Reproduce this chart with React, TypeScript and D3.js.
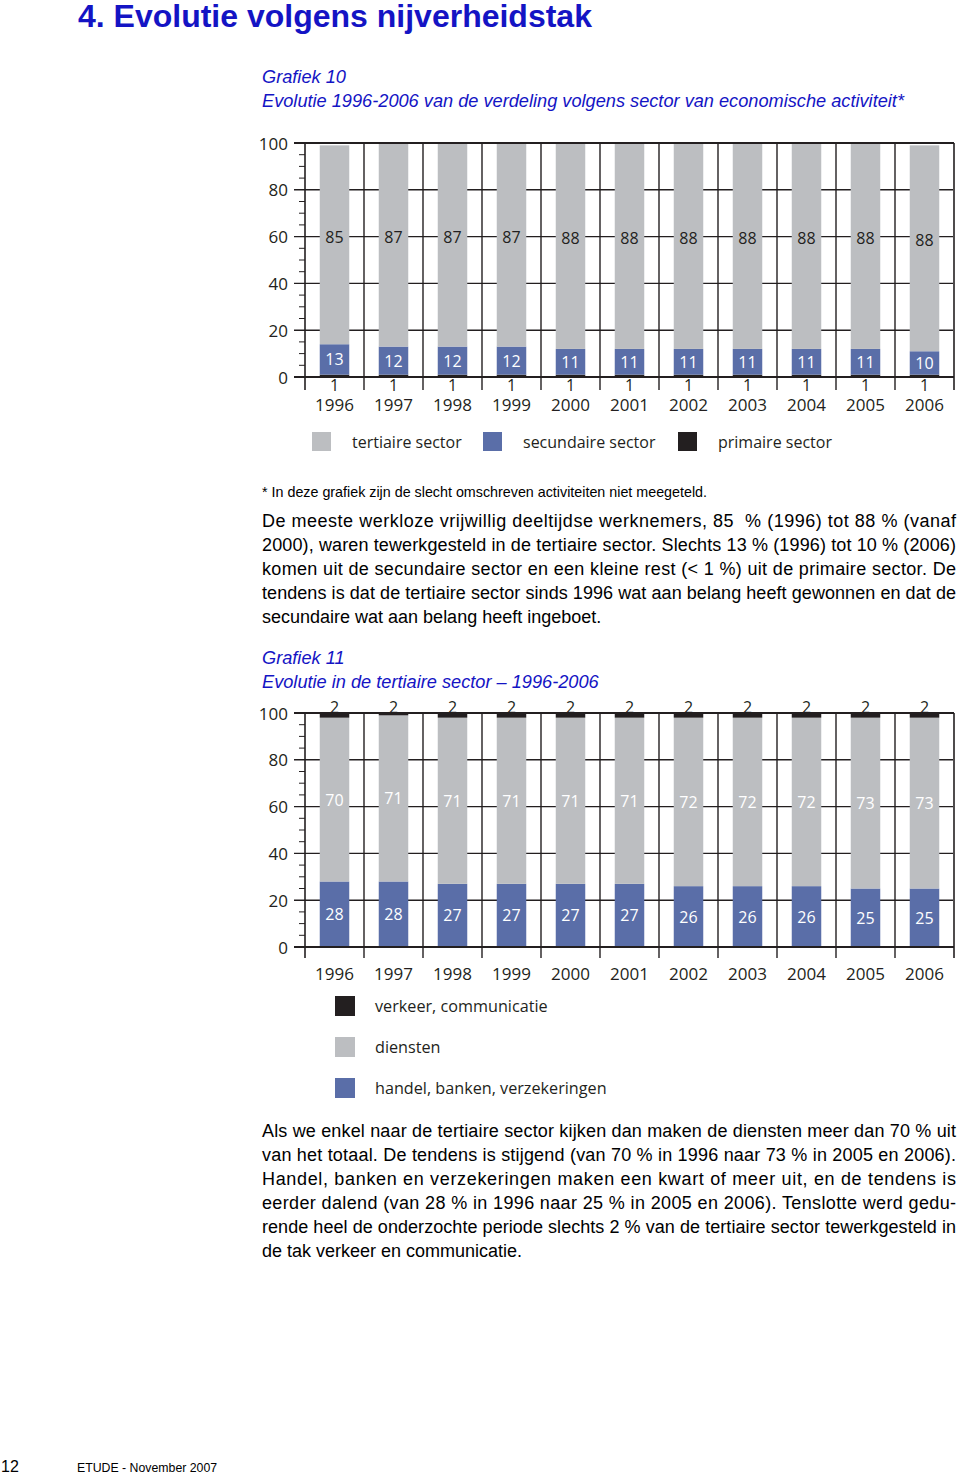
import React from 'react';
import * as d3 from 'd3';

const years = ['1996', '1997', '1998', '1999', '2000', '2001', '2002', '2003', '2004', '2005', '2006'];

// Grafiek 10
const primaire = [1, 1, 1, 1, 1, 1, 1, 1, 1, 1, 1];
const secundaire = [13, 12, 12, 12, 11, 11, 11, 11, 11, 11, 10];
const tertiaire = [85, 87, 87, 87, 88, 88, 88, 88, 88, 88, 88];

// Grafiek 11
const handel = [28, 28, 27, 27, 27, 27, 26, 26, 26, 25, 25];
const diensten = [70, 71, 71, 71, 71, 71, 72, 72, 72, 73, 73];
const verkeer = [2, 2, 2, 2, 2, 2, 2, 2, 2, 2, 2];

const yTicks = [0, 20, 40, 60, 80, 100];
const yMinor = d3.range(0, 101, 5);

const legend1 = ['tertiaire sector', 'secundaire sector', 'primaire sector'];
const legend2 = ['verkeer, communicatie', 'diensten', 'handel, banken, verzekeringen'];

const GREY = '#bcbec1';
const BLUE = '#5a6ea8';
const DARK = '#231f20';
const TITLE_BLUE = '#1414c4';

const CHART_FONT = '"Open Sans", "Noto Sans", sans-serif';
const TEXT_FONT = '"Liberation Sans", Arial, sans-serif';

type Layer = {
  key: string;
  values: number[];
  color: string;
  label: 'dark' | 'white' | 'below' | 'above';
  shift?: number;
};

function StackChart({ top, bottom, layers, yearY, tickDown, primaryLabelY }: {
  top: number; bottom: number; layers: Layer[]; yearY: number; tickDown: number; primaryLabelY?: number;
}) {
  const left = 305;
  const right = 954;
  const x = d3.scaleBand<string>().domain(years).range([left, right]).padding(0);
  const y = d3.scaleLinear().domain([0, 100]).range([bottom, top]);
  const bw = x.bandwidth() * 0.5;
  const rows = years.map((yr, i) => {
    const r: any = { year: yr };
    layers.forEach(l => { r[l.key] = l.values[i]; });
    return r;
  });
  const stacked = d3.stack<any>().keys(layers.map(l => l.key))(rows);
  const clamp = (v: number) => Math.min(v, 100);
  const boundaries = d3.range(0, years.length + 1).map(i => left + i * x.bandwidth());

  return (
    <g>
      {yTicks.filter(t => t > 0 && t < 100).map(t => (
        <line key={'g' + t} x1={294} x2={right - 1} y1={y(t)} y2={y(t)} stroke={DARK} strokeWidth={1.4} />
      ))}
      {yMinor.filter(t => t % 20 !== 0).map(t => (
        <line key={'m' + t} x1={299} x2={left} y1={y(t)} y2={y(t)} stroke={DARK} strokeWidth={1} />
      ))}
      {stacked.map((s, li) => s.map((d, i) => {
        const x0 = (x(years[i]) as number) + (x.bandwidth() - bw) / 2;
        const y1 = y(clamp(d[1]));
        const y0 = y(clamp(d[0]));
        return <rect key={layers[li].key + i} x={x0} y={y1} width={bw} height={Math.max(0, y0 - y1)} fill={layers[li].color} />;
      }))}
      {boundaries.map((bx, i) => (
        <line key={'v' + i} x1={bx} x2={bx} y1={y(100)} y2={bottom + tickDown} stroke={DARK} strokeWidth={i === 0 || i === years.length ? 1.6 : 1.4} />
      ))}
      <line x1={294} x2={right} y1={y(100)} y2={y(100)} stroke={DARK} strokeWidth={2} />
      <line x1={294} x2={right} y1={y(0)} y2={y(0)} stroke={DARK} strokeWidth={2.2} />
      {yTicks.map(t => (
        <text key={'t' + t} x={288} y={y(t)} textAnchor="end" dominantBaseline="central"
          fontFamily={CHART_FONT} fontSize={17} fill={DARK}>{t}</text>
      ))}
      {stacked.map((s, li) => s.map((d, i) => {
        const l = layers[li];
        const cx = (x(years[i]) as number) + x.bandwidth() / 2;
        const v = l.values[i];
        let ly = y((clamp(d[0]) + clamp(d[1])) / 2) + (l.shift || 0);
        const fill = l.label === 'white' ? '#ffffff' : DARK;
        if (l.label === 'below') ly = primaryLabelY as number;
        if (l.label === 'above') ly = y(100) - 6;
        return (
          <text key={'l' + l.key + i} x={cx} y={ly} textAnchor="middle" dominantBaseline="central"
            fontFamily={CHART_FONT} fontSize={16} fill={fill}>{v}</text>
        );
      }))}
      {years.map(yr => (
        <text key={'y' + yr} x={(x(yr) as number) + x.bandwidth() / 2} y={yearY} textAnchor="middle" dominantBaseline="central"
          fontFamily={CHART_FONT} fontSize={17} fill={DARK}>{yr}</text>
      ))}
    </g>
  );
}

const para1 = [
  'De meeste werkloze vrijwillig deeltijdse werknemers, 85  % (1996) tot 88 % (vanaf',
  '2000), waren tewerkgesteld in de tertiaire sector. Slechts 13 % (1996) tot 10 % (2006)',
  'komen uit de secundaire sector en een kleine rest (< 1 %) uit de primaire sector. De',
  'tendens is dat de tertiaire sector sinds 1996 wat aan belang heeft gewonnen en dat de',
  'secundaire wat aan belang heeft ingeboet.',
];

const para2 = [
  'Als we enkel naar de tertiaire sector kijken dan maken de diensten meer dan 70 % uit',
  'van het totaal. De tendens is stijgend (van 70 % in 1996 naar 73 % in 2005 en 2006).',
  'Handel, banken en verzekeringen maken een kwart of meer uit, en de tendens is',
  'eerder dalend (van 28 % in 1996 naar 25 % in 2005 en 2006). Tenslotte werd gedu-',
  'rende heel de onderzochte periode slechts 2 % van de tertiaire sector tewerkgesteld in',
  'de tak verkeer en communicatie.',
];

function Paragraph({ lines, y0 }: { lines: string[]; y0: number }) {
  return (
    <g>
      {lines.map((ln, i) => {
        const last = i === lines.length - 1;
        return (
          <text key={i} x={262} y={y0 + i * 24} fontFamily={TEXT_FONT} fontSize={18} fill="#000"
            style={{ whiteSpace: 'pre' }}
            {...(last ? {} : { textLength: 694, lengthAdjust: 'spacing' })}>{ln}</text>
        );
      })}
    </g>
  );
}

export default function App() {
  const layers1: Layer[] = [
    { key: 'primaire', values: primaire, color: DARK, label: 'below' },
    { key: 'secundaire', values: secundaire, color: BLUE, label: 'white' },
    { key: 'tertiaire', values: tertiaire, color: GREY, label: 'dark', shift: -8 },
  ];
  const layers2: Layer[] = [
    { key: 'handel', values: handel, color: BLUE, label: 'white' },
    { key: 'diensten', values: diensten, color: GREY, label: 'white' },
    { key: 'verkeer', values: verkeer, color: DARK, label: 'above' },
  ];
  const legendColors1 = [GREY, BLUE, DARK];
  const legendX1 = [312, 483, 678];
  const legendColors2 = [DARK, GREY, BLUE];
  const legendY2 = [996, 1037, 1078];

  return (
    <svg width={960} height={1475} viewBox="0 0 960 1475"
      style={{ position: 'absolute', left: 0, top: 0, display: 'block', background: '#fff' }}>
      <rect x={0} y={0} width={960} height={1475} fill="#fff" />
      <text x={78} y={27} fontFamily={TEXT_FONT} fontWeight="bold" fontSize={32} fill={TITLE_BLUE}>4. Evolutie volgens nijverheidstak</text>

      <text x={262} y={83} fontFamily={TEXT_FONT} fontStyle="italic" fontSize={18.2} fill={TITLE_BLUE}>Grafiek 10</text>
      <text x={262} y={107} fontFamily={TEXT_FONT} fontStyle="italic" fontSize={18.2} fill={TITLE_BLUE}>Evolutie 1996-2006 van de verdeling volgens sector van economische activiteit*</text>

      <StackChart top={143} bottom={377} layers={layers1} yearY={404} tickDown={13} primaryLabelY={385} />

      {legend1.map((t, i) => (
        <g key={t}>
          <rect x={legendX1[i]} y={432} width={19} height={19} fill={legendColors1[i]} />
          <text x={legendX1[i] + 40} y={441.5} dominantBaseline="central" fontFamily={CHART_FONT} fontSize={16} fill={DARK}>{t}</text>
        </g>
      ))}

      <text x={262} y={497} fontFamily={TEXT_FONT} fontSize={14.3} fill="#000">* In deze grafiek zijn de slecht omschreven activiteiten niet meegeteld.</text>

      <Paragraph lines={para1} y0={527} />

      <text x={262} y={664} fontFamily={TEXT_FONT} fontStyle="italic" fontSize={18.2} fill={TITLE_BLUE}>Grafiek 11</text>
      <text x={262} y={688} fontFamily={TEXT_FONT} fontStyle="italic" fontSize={18.2} fill={TITLE_BLUE}>Evolutie in de tertiaire sector – 1996-2006</text>

      <StackChart top={713} bottom={947} layers={layers2} yearY={973} tickDown={11} />

      {legend2.map((t, i) => (
        <g key={t}>
          <rect x={335} y={legendY2[i]} width={20} height={20} fill={legendColors2[i]} />
          <text x={375} y={legendY2[i] + 10} dominantBaseline="central" fontFamily={CHART_FONT} fontSize={16.2} fill={DARK}>{t}</text>
        </g>
      ))}

      <Paragraph lines={para2} y0={1137} />

      <text x={1} y={1472} fontFamily={TEXT_FONT} fontSize={16} fill="#000">12</text>
      <text x={77} y={1472} fontFamily={TEXT_FONT} fontSize={12.3} fill="#000">ETUDE - November 2007</text>
    </svg>
  );
}
